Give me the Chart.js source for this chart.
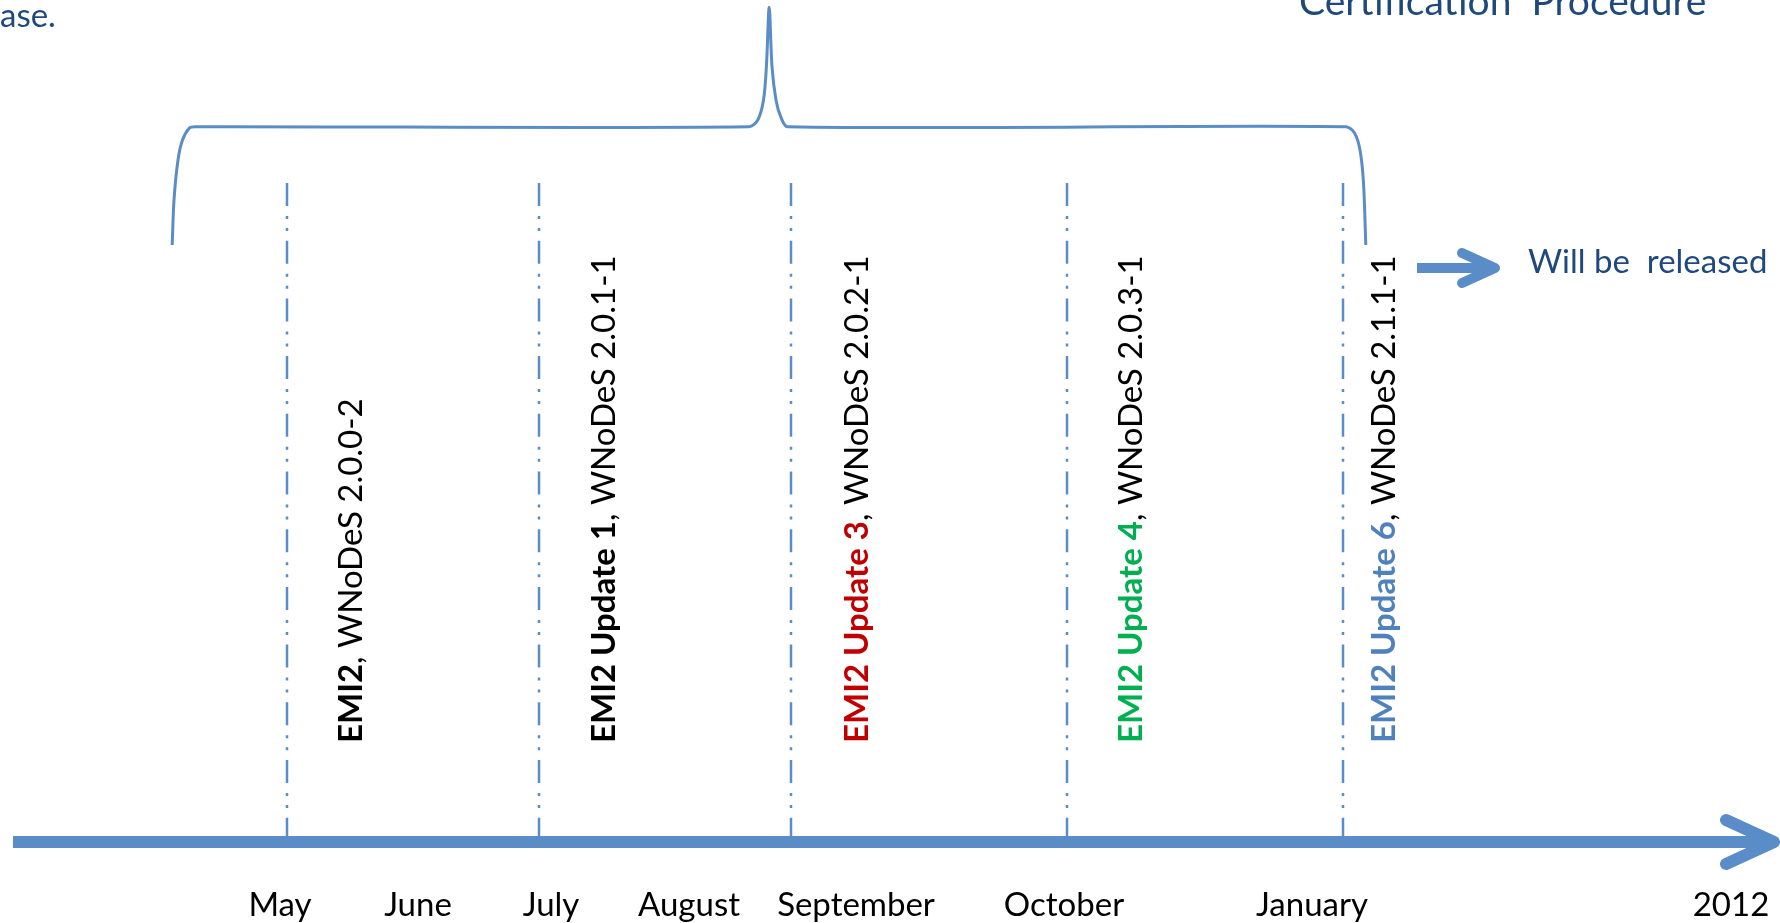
<!DOCTYPE html>
<html>
<head>
<meta charset="utf-8">
<script src="https://cdn.jsdelivr.net/npm/chart.js@4.4.1/dist/chart.umd.min.js"></script>
<style>
html,body{margin:0;padding:0;background:#ffffff;}
#wrap{width:1780px;height:923px;position:relative;}
</style>
</head>
<body>
<div id="wrap"><canvas id="c"></canvas></div>
<script>
// ---------------- data (timeline units) ----------------
const monthLabels = ['May', 'June', 'July', 'August', 'September', 'October', 'January', '2012'];
const monthPos = [28.0, 41.8, 55.1, 68.9, 85.6, 106.4, 131.2, 173.1];

const releaseNames = ['EMI2', 'EMI2 Update 1', 'EMI2 Update 3', 'EMI2 Update 4', 'EMI2 Update 6'];
const releaseVersions = [', WNoDeS 2.0.0-2', ', WNoDeS 2.0.1-1', ', WNoDeS 2.0.2-1', ', WNoDeS 2.0.3-1', ', WNoDeS 2.1.1-1'];
const releasePos = [28.7, 53.9, 79.1, 106.7, 134.3];
const releaseTop = 65.9;

const axisStart = 1.3;
const axisEnd = 177.4;

const bracketX = [17.22, 17.4, 17.8, 18.25, 18.94, 19.5, 74.9, 75.78, 76.35, 76.64, 76.92, 77.2, 77.6, 78.07, 78.76, 134.6, 135.45, 136.0, 136.35, 136.58];
const bracketY = [59.7, 64.2, 68.2, 70.2, 71.4, 71.53, 71.53, 72.2, 74.2, 77.53, 83.47, 77.53, 74.2, 72.53, 71.53, 71.53, 70.9, 69.2, 65.9, 59.7];

const noteTexts = ['ase.', 'Certification  Procedure', 'Will be  released'];
const notePosX = [0.0, 129.9, 152.8];
const notePosY = [81.5, 82.7, 56.9];

const releaseArrowX = [141.7, 149.5];
const releaseArrowY = 57.4;

// ---------------- styles / layout ----------------
const LINE_BLUE = '#5A8DC8';
const NOTE_BLUE = '#1F497D';
const RELEASE_COLORS = ['#000000', '#000000', '#C00000', '#00B050', '#4F81BD'];
const LABEL_OFFSET_PX = [75, 76, 77, 75, 52];
const LABEL_BASE = 9.9;
const FONT = 'Lato';
const FS = 33;
const NOTE_FS = [33, 39, 33];

// ---------------- datasets ----------------
const datasets = [];
datasets.push({
  data: [{x: axisStart, y: 0}, {x: axisEnd, y: 0}],
  borderColor: LINE_BLUE, borderWidth: 12, borderCapStyle: 'butt'
});
datasets.push({
  data: [{x: axisEnd - 4.8, y: 2.2}, {x: axisEnd, y: 0}, {x: axisEnd - 4.8, y: -2.2}],
  borderColor: LINE_BLUE, borderWidth: 12, borderCapStyle: 'round', borderJoinStyle: 'round'
});
releasePos.forEach(p => {
  datasets.push({
    data: [{x: p, y: releaseTop}, {x: p, y: 0}],
    borderColor: LINE_BLUE, borderWidth: 2.5, borderDash: [23, 10, 3, 9, 3, 9.7]
  });
});
datasets.push({
  data: bracketX.map((v, i) => ({x: v, y: bracketY[i]})),
  borderColor: LINE_BLUE, borderWidth: 3, tension: 0.3, borderCapStyle: 'butt'
});
datasets.push({
  data: [{x: releaseArrowX[0], y: releaseArrowY}, {x: releaseArrowX[1] - 0.4, y: releaseArrowY}],
  borderColor: LINE_BLUE, borderWidth: 10, borderCapStyle: 'butt'
});
datasets.push({
  data: [{x: releaseArrowX[1] - 3.3, y: releaseArrowY + 1.5}, {x: releaseArrowX[1], y: releaseArrowY}, {x: releaseArrowX[1] - 3.3, y: releaseArrowY - 1.5}],
  borderColor: LINE_BLUE, borderWidth: 10, borderCapStyle: 'round', borderJoinStyle: 'round'
});
datasets.forEach(d => { d.showLine = true; d.pointRadius = 0; d.clip = false; d.fill = false; });

// ---------------- text plugin ----------------
const textPlugin = {
  id: 'timelineText',
  afterDatasetsDraw(chart) {
    const {ctx} = chart;
    const xs = chart.scales.x, ys = chart.scales.y;
    ctx.save();
    releaseNames.forEach((name, i) => {
      const px = xs.getPixelForValue(releasePos[i]) + LABEL_OFFSET_PX[i];
      const py = ys.getPixelForValue(LABEL_BASE);
      ctx.save();
      ctx.translate(px, py);
      ctx.rotate(-Math.PI / 2);
      ctx.textBaseline = 'alphabetic';
      ctx.textAlign = 'left';
      ctx.font = 'bold ' + FS + 'px ' + FONT;
      ctx.fillStyle = RELEASE_COLORS[i];
      ctx.fillText(name, 0, 0);
      const w = ctx.measureText(name).width;
      ctx.font = FS + 'px ' + FONT;
      ctx.fillStyle = '#000000';
      ctx.fillText(releaseVersions[i], w, 0);
      ctx.restore();
    });
    ctx.fillStyle = NOTE_BLUE;
    ctx.textBaseline = 'alphabetic';
    ctx.textAlign = 'left';
    noteTexts.forEach((t, i) => {
      ctx.font = NOTE_FS[i] + 'px ' + FONT;
      ctx.fillText(t, xs.getPixelForValue(notePosX[i]), ys.getPixelForValue(notePosY[i]));
    });
    ctx.restore();
  }
};

new Chart(document.getElementById('c'), {
  type: 'scatter',
  data: {datasets},
  plugins: [textPlugin],
  options: {
    responsive: true,
    maintainAspectRatio: false,
    animation: false,
    events: [],
    layout: {padding: 0},
    plugins: {legend: {display: false}, tooltip: {enabled: false}, title: {display: false}},
    scales: {
      x: {
        type: 'linear', min: 0, max: 178,
        grid: {display: false, drawTicks: true, tickLength: 41},
        border: {display: false},
        afterBuildTicks: (axis) => { axis.ticks = monthPos.map(v => ({value: v})); },
        afterFit: (axis) => { axis.height = 81; axis.paddingLeft = 0; axis.paddingRight = 0; },
        ticks: {
          autoSkip: false, maxRotation: 0, minRotation: 0, padding: 3,
          color: '#000000', font: {family: FONT, size: FS},
          callback: (value, index) => monthLabels[index]
        }
      },
      y: {
        type: 'linear', min: 0, max: 84.2, display: false
      }
    }
  }
});
</script>
</body>
</html>
